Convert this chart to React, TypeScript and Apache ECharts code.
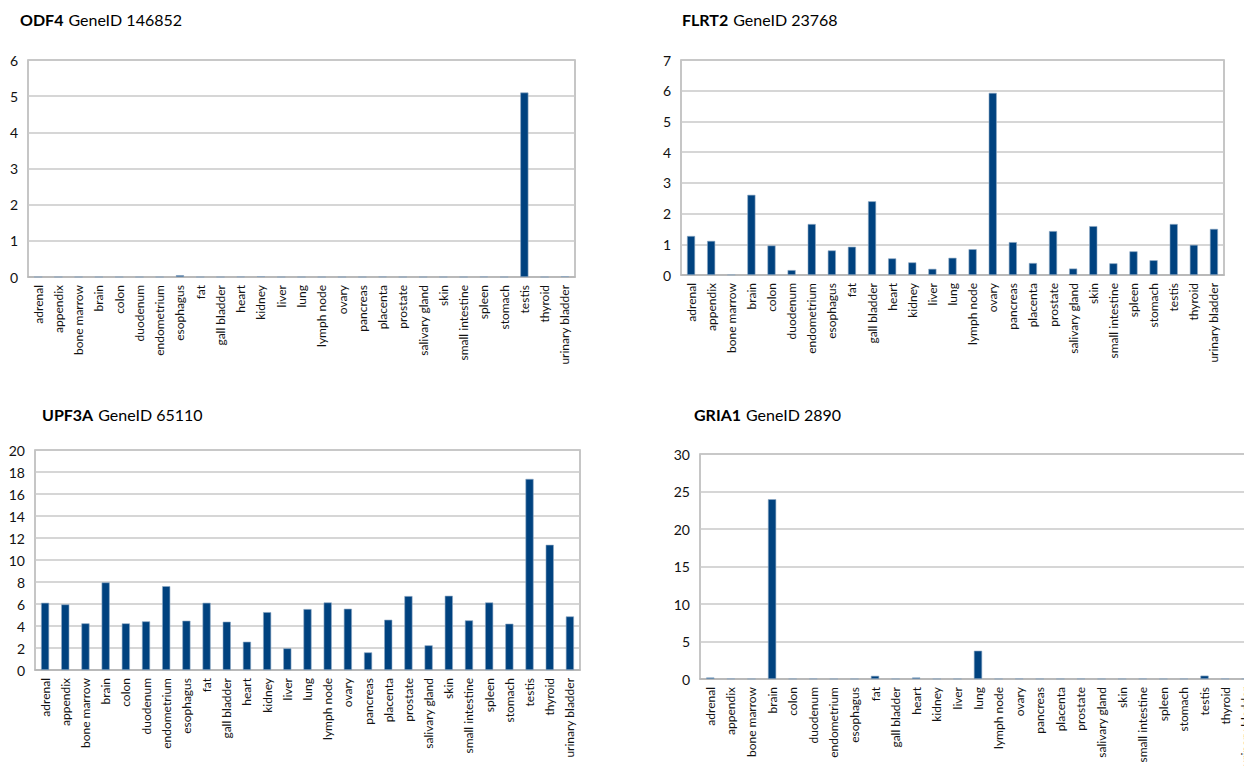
import React, { useEffect, useRef } from "react";
import * as echarts from "echarts";

const tissues = [
  "adrenal", "appendix", "bone marrow", "brain", "colon", "duodenum", "endometrium",
  "esophagus", "fat", "gall bladder", "heart", "kidney", "liver", "lung", "lymph node",
  "ovary", "pancreas", "placenta", "prostate", "salivary gland", "skin", "small intestine",
  "spleen", "stomach", "testis", "thyroid", "urinary bladder",
];

const odf4 = [0, 0, 0, 0, 0, 0, 0, 0.05, 0, 0, 0.01, 0.02, 0, 0, 0, 0, 0, 0.01, 0, 0, 0, 0, 0.01, 0, 5.1, 0, 0.02];
const flrt2 = [1.27, 1.11, 0.01, 2.61, 0.96, 0.16, 1.66, 0.8, 0.92, 2.4, 0.54, 0.41, 0.2, 0.56, 0.84, 5.93, 1.07, 0.39, 1.43, 0.21, 1.59, 0.38, 0.77, 0.48, 1.66, 0.98, 1.5];
const upf3a = [6.11, 5.96, 4.24, 7.96, 4.24, 4.42, 7.62, 4.48, 6.11, 4.39, 2.57, 5.26, 1.97, 5.54, 6.14, 5.57, 1.6, 4.57, 6.72, 2.24, 6.75, 4.51, 6.14, 4.21, 17.37, 11.38, 4.87];
const gria1 = [0.2, 0.05, 0.02, 23.97, 0.03, 0.05, 0.02, 0.02, 0.42, 0.02, 0.2, 0.02, 0.02, 3.77, 0.02, 0.05, 0.02, 0.02, 0.03, 0.02, 0.02, 0.05, 0.02, 0.03, 0.45, 0.05, 0.03];

const panels = [
  { gene: "ODF4", id: "GeneID 146852", data: odf4, max: 6, interval: 1 },
  { gene: "FLRT2", id: "GeneID 23768", data: flrt2, max: 7, interval: 1 },
  { gene: "UPF3A", id: "GeneID 65110", data: upf3a, max: 20, interval: 2 },
  { gene: "GRIA1", id: "GeneID 2890", data: gria1, max: 30, interval: 5 },
];

const FONT = "Lato, 'Open Sans', sans-serif";
const BAR = "#00427f";

export default function App() {
  const ref = useRef<HTMLDivElement>(null);
  useEffect(() => {
    document.body.style.margin = "0";
    const chart = echarts.init(ref.current!, undefined, { renderer: "svg" });
    const grids = [
      { left: 28, top: 60, width: 547, height: 217 },
      { left: 681, top: 60, width: 543, height: 215 },
      { left: 35, top: 450, width: 545, height: 220 },
      { left: 700, top: 454, width: 556, height: 225 },
    ];
    const titlePos = [
      { left: 20, top: 10 },
      { left: 682, top: 10 },
      { left: 42, top: 405 },
      { left: 694, top: 405 },
    ];
    chart.setOption({
      animation: false,
      backgroundColor: "#ffffff",
      title: panels.map((p, i) => ({
        text: `{b|${p.gene}} {n|${p.id}}`,
        left: titlePos[i].left,
        top: titlePos[i].top,
        padding: 0,
        textStyle: {
          fontWeight: "normal",
          rich: {
            b: { fontFamily: FONT, fontSize: 16, fontWeight: "bold", color: "#000" },
            n: { fontFamily: FONT, fontSize: 16, fontWeight: "normal", color: "#000" },
          },
        },
      })),
      grid: grids.map((g) => ({
        ...g,
        show: true,
        borderColor: "#b4b4b4",
        borderWidth: 1.5,
        backgroundColor: "transparent",
        containLabel: false,
        outerBoundsMode: "none",
      })),
      xAxis: panels.map((p, i) => ({
        type: "category",
        gridIndex: i,
        data: tissues,
        axisLine: { show: true, lineStyle: { color: "#b4b4b4", width: 1.5 } },
        axisTick: { show: false },
        axisLabel: {
          rotate: 90,
          interval: 0,
          fontFamily: FONT,
          fontSize: 12,
          color: "#111",
          margin: 8,
        },
      })),
      yAxis: panels.map((p, i) => ({
        type: "value",
        gridIndex: i,
        min: 0,
        max: p.max,
        interval: p.interval,
        axisLine: { show: false },
        axisTick: { show: false },
        splitLine: { show: true, lineStyle: { color: "#c8c8c8", width: 1.5 } },
        axisLabel: { fontFamily: FONT, fontSize: 14, color: "#111", margin: 10 },
      })),
      series: panels.map((p, i) => ({
        type: "bar",
        xAxisIndex: i,
        yAxisIndex: i,
        data: p.data,
        barCategoryGap: "60%",
        itemStyle: { color: BAR, borderColor: "#8fa9c4", borderWidth: 0.6 },
      })),
    });
    return () => chart.dispose();
  }, []);
  return <div ref={ref} style={{ width: 1244, height: 766 }} />;
}
